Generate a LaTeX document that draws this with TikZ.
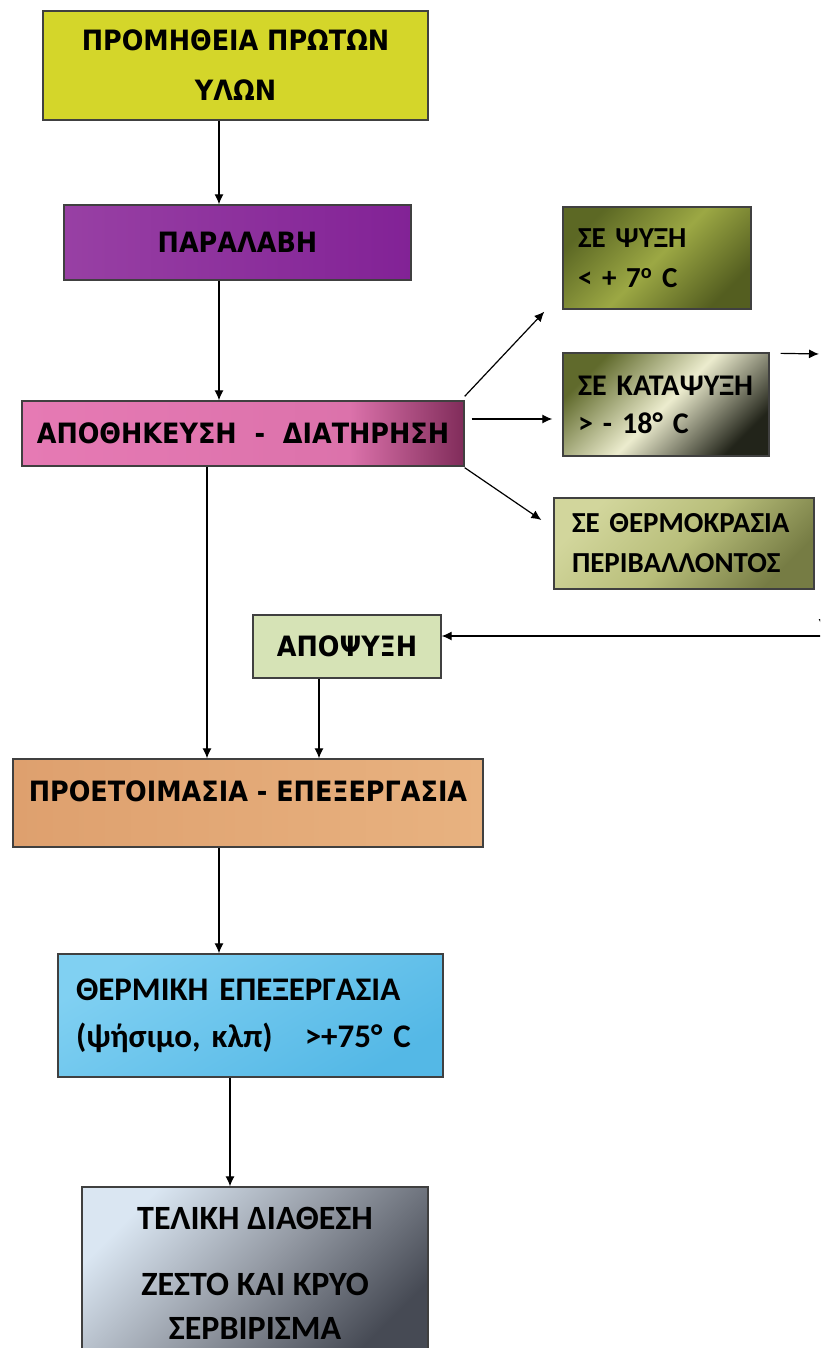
\documentclass[tikz,border=0pt]{standalone}
\usepackage{fontspec}
\setmainfont{Carlito}
\newfontfamily\widefont{DejaVu Sans}[FakeStretch=0.91]
\usetikzlibrary{arrows.meta}

\definecolor{supplyc}{RGB}{212,214,42}
\definecolor{recvA}{RGB}{152,64,164}
\definecolor{recvB}{RGB}{130,34,150}
\definecolor{storeA}{RGB}{230,122,180}
\definecolor{storeB}{RGB}{128,44,90}
\definecolor{chillA}{RGB}{92,104,36}
\definecolor{chillB}{RGB}{156,168,68}
\definecolor{chillC}{RGB}{84,94,32}
\definecolor{freezeA}{RGB}{96,106,44}
\definecolor{freezeB}{RGB}{236,236,206}
\definecolor{freezeC}{RGB}{34,36,26}
\definecolor{ambA}{RGB}{210,214,156}
\definecolor{ambB}{RGB}{184,190,122}
\definecolor{ambC}{RGB}{118,124,68}
\definecolor{thawc}{RGB}{214,227,182}
\definecolor{prepA}{RGB}{222,160,110}
\definecolor{prepB}{RGB}{232,178,128}
\definecolor{cookA}{RGB}{128,208,242}
\definecolor{cookB}{RGB}{84,184,230}
\definecolor{serveA}{RGB}{218,230,242}
\definecolor{serveB}{RGB}{148,154,164}
\definecolor{serveC}{RGB}{70,74,84}

\pgfdeclarehorizontalshading{storeshade}{100bp}{color(0bp)=(storeA); color(25bp)=(storeA);
  color(62bp)=(storeA!90!storeB); color(75bp)=(storeB); color(100bp)=(storeB)}

\begin{document}
\begin{tikzpicture}[x=1pt,y=-1pt,>={Latex[length=10pt,width=9pt]},line width=1.2pt,
  box/.style={draw=black!75,line width=1.3pt,inner sep=0pt},
  wide/.style={font=\widefont\bfseries\fontsize{28}{50}\selectfont,align=center},
  side/.style={font=\bfseries\fontsize{29}{40}\selectfont,align=left,inner xsep=15pt}]

  \useasboundingbox (0,0) rectangle (820,1348);
  \clip (0,0) rectangle (820,1348);
  \fill[white] (0,0) rectangle (820,1348);

  % main column
  \node[box,wide,fill=supplyc,minimum width=385pt,minimum height=109pt] (supply) at (235.5,65.5) {ΠΡΟΜΗΘΕΙΑ ΠΡΩΤΩΝ\\ΥΛΩΝ};
  \node[box,wide,left color=recvA,right color=recvB,minimum width=347pt,minimum height=75pt] (receipt) at (237.5,242.5) {ΠΑΡΑΛΑΒΗ};
  \node[box,wide,shading=storeshade,minimum width=442pt,minimum height=65pt] (storage) at (243,433.5) {ΑΠΟΘΗΚΕΥΣΗ~ - ~ΔΙΑΤΗΡΗΣΗ};
  \node[box,wide,fill=thawc,minimum width=188pt,minimum height=63pt] (thaw) at (347,646.5) {ΑΠΟΨΥΞΗ};
  \node[box,wide,left color=prepA,right color=prepB,minimum width=470pt,minimum height=88pt,text height=20pt,text depth=24pt] (prep) at (248,803) {ΠΡΟΕΤΟΙΜΑΣΙΑ - ΕΠΕΞΕΡΓΑΣΙΑ};

  % storage conditions
  \node[box,side,top color=chillA,bottom color=chillC,middle color=chillB,shading angle=45,minimum width=188pt,minimum height=102pt,text width=158pt] (chill) at (657,258) {ΣΕ ΨΥΞΗ\\< + 7\textsuperscript{o} C};
  \node[box,side,top color=freezeA,bottom color=freezeC,middle color=freezeB,shading angle=45,minimum width=206pt,minimum height=103pt,text width=176pt,font=\bfseries\fontsize{30}{38}\selectfont] (freeze) at (666,404.5) {ΣΕ ΚΑΤΑΨΥΞΗ\\> - 18° C};
  \node[box,side,top color=ambA,bottom color=ambC,middle color=ambB,shading angle=45,minimum width=260pt,minimum height=91pt,inner xsep=18pt,text width=224pt] (ambient) at (684,543.5) {ΣΕ ΘΕΡΜΟΚΡΑΣΙΑ\\ΠΕΡΙΒΑΛΛΟΝΤΟΣ};

  % cooking and serving
  \node[box,side,top color=cookA,bottom color=cookB,shading angle=30,minimum width=385pt,minimum height=123pt,inner xsep=18pt,text width=349pt,font=\bfseries\fontsize{33}{47}\selectfont] (cook) at (250.5,1015.5) {ΘΕΡΜΙΚΗ ΕΠΕΞΕΡΓΑΣΙΑ\\(ψήσιμο, κλπ)\hspace{32pt}>+75° C};
  \node[box,top color=serveA,bottom color=serveC,middle color=serveB,shading angle=45,minimum width=346pt,minimum height=172pt,align=center,font=\bfseries\fontsize{34}{44}\selectfont] (serve) at (255,1273) {ΤΕΛΙΚΗ ΔΙΑΘΕΣΗ\\[22pt]ΖΕΣΤΟ ΚΑΙ ΚΡΥΟ\\ΣΕΡΒΙΡΙΣΜΑ};

  % loop round the right edge
  \coordinate (outA) at (819,354);
  \coordinate (outB) at (823,354);
  \coordinate (outC) at (823,629);
  \coordinate (outD) at (823,636);

  % arrows
  \draw[->] ([xshift=-16.5pt]supply.south) -- ([xshift=-18.5pt]receipt.north);
  \draw[->] ([xshift=-18.5pt]receipt.south) -- ([xshift=-24pt]storage.north);
  \draw[->] ([xshift=-36pt]storage.south) -- ([xshift=-41pt]prep.north);
  \draw[->] ([xshift=-28pt]thaw.south) -- ([xshift=71pt]prep.north);
  \draw[->] ([xshift=-29pt]prep.south) -- ([xshift=-31.5pt]cook.north);
  \draw[->] ([xshift=-20.5pt]cook.south) -- ([xshift=-25pt]serve.north);

  \draw[->] ([yshift=4pt]storage.north east) -- ([xshift=-18pt,yshift=-2pt]chill.south west);
  \draw[->] ([xshift=7pt,yshift=14.5pt]storage.east) -- ([xshift=-10pt,yshift=-14.5pt]freeze.west);
  \draw[->] ([yshift=-1pt]storage.south east) -- ([xshift=-12pt,yshift=23.5pt]ambient.west);

  \draw[->] ([xshift=11pt,yshift=-1pt]freeze.north east) -- (outA);
  \draw[->] (outB) -- (outC);
  \draw[->] (outD) -- ([yshift=10.5pt]thaw.east);
\end{tikzpicture}
\end{document}
